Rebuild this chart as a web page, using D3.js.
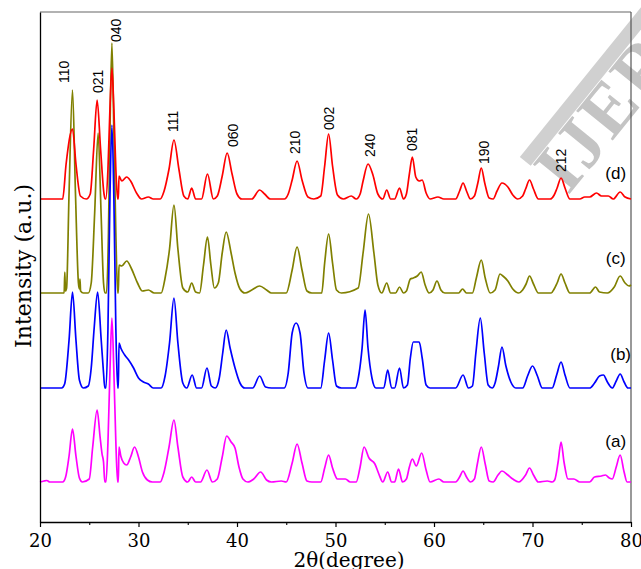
<!DOCTYPE html>
<html><head><meta charset="utf-8">
<script src="https://cdn.jsdelivr.net/npm/d3@7"></script>
<style>html,body{margin:0;padding:0;background:#fff;}svg{display:block;}</style>
</head><body>
<svg id="chart" width="641" height="569"></svg>
<script>
// ---- data (2θ in degrees, intensity in arbitrary units above each pattern's baseline) ----
const seriesNames = ["(a)", "(b)", "(c)", "(d)"];
const seriesColors = ["#ff00ff", "#0000ff", "#808000", "#ff0000"];
const seriesOffsets = [40, 134, 229, 323];
const labelLevels = [75, 162, 258, 343];
const labelAngles = [79.5, 80.0, 79.45, 79.5];

const patternA = [[20,0],[20.4,1],[20.7,1.5],[21.0,0],[22.3,0],[22.6,5],[22.95,26],[23.3,53],[23.65,26],[24.0,4],[24.3,0],[25.0,3],[25.35,35],[25.8,72],[26.1,45],[26.3,28],[26.45,20],[26.58,0],[26.7,0],[26.9,40],[27.1,110],[27.3,164],[27.5,110],[27.7,40],[27.88,0],[27.95,0],[28.02,35],[28.2,26],[28.5,19],[28.8,17],[29.2,25],[29.6,35],[30.0,25],[30.4,10],[30.9,2],[31.4,0],[32.2,0],[32.6,10],[33.1,35],[33.6,62],[34.0,35],[34.5,5],[35.0,0],[35.4,5],[35.8,0],[36.3,0],[36.95,12],[37.5,0],[38.0,3],[38.5,25],[38.95,46],[39.4,40],[39.8,34],[40.2,15],[40.6,3],[41.1,0],[41.7,3],[42.4,10],[43.0,2],[43.5,0],[44.5,1],[45.0,0],[45.6,19],[46.1,38],[46.6,19],[47.1,1],[47.6,0],[48.5,0],[48.9,14],[49.3,27],[49.7,14],[50.2,3],[51.0,3],[51.5,0],[52.1,0],[52.5,15],[52.9,35],[53.4,24],[54.0,18],[54.4,8],[54.8,0],[55.3,10],[55.7,0],[56.0,0],[56.4,13],[56.8,0],[57.2,3],[57.5,15],[57.8,23],[58.2,16],[58.75,29],[59.2,12],[59.6,0],[60.5,3],[61.0,0],[62.2,0],[62.6,5],[62.95,11],[63.3,5],[63.7,0],[64.1,3],[64.4,18],[64.8,35],[65.2,18],[65.6,1],[66.0,0],[66.5,7],[66.9,11],[67.5,7],[68.0,3],[68.6,0],[69.3,7],[69.7,14],[70.1,7],[70.6,0],[71.5,1],[72.0,0],[72.25,2],[72.6,20],[72.9,40],[73.2,20],[73.6,3],[74.2,3],[74.8,0],[75.8,0],[76.3,5],[77.0,6],[77.4,7],[77.8,4],[78.1,3],[78.5,15],[78.9,27],[79.3,10],[79.6,0],[80,0]];

const patternB = [[20,0],[22.2,0],[22.5,4],[22.95,48],[23.3,96],[23.65,48],[24.0,8],[24.4,0],[24.9,2],[25.2,20],[25.5,60],[25.85,96],[26.2,50],[26.45,15],[26.58,0],[26.7,0],[26.9,60],[27.1,190],[27.3,263],[27.5,190],[27.7,60],[27.88,0],[27.95,0],[28.02,45],[28.2,40],[28.6,33],[29.0,28],[29.5,20],[30.0,10],[30.5,6],[31.0,4],[31.5,0],[32.3,0],[32.7,12],[33.15,45],[33.6,90],[34.0,45],[34.5,5],[34.9,0],[35.45,13],[35.9,0],[36.4,0],[36.95,20],[37.4,2],[37.8,0],[38.2,10],[38.55,35],[38.9,58],[39.3,40],[39.8,20],[40.3,5],[40.8,0],[41.6,0],[42.3,12],[42.9,1],[43.5,0],[44.8,0],[45.2,15],[45.6,55],[46.0,65],[46.4,55],[46.8,15],[47.2,0],[48.5,0],[48.9,28],[49.3,55],[49.7,28],[50.1,2],[50.6,0],[52.0,0],[52.4,15],[52.7,40],[53.0,78],[53.3,40],[53.7,10],[54.1,0],[54.9,0],[55.3,18],[55.7,0],[56.0,0],[56.5,20],[56.9,0],[57.3,3],[57.6,30],[57.9,46],[58.5,46],[58.8,30],[59.2,3],[59.6,0],[62.2,0],[62.95,13],[63.5,0],[63.9,2],[64.25,35],[64.7,70],[65.1,35],[65.5,3],[65.9,0],[66.2,5],[66.55,22],[66.9,41],[67.3,22],[67.8,6],[68.3,0],[69.0,0],[69.5,12],[70.0,22],[70.5,12],[71.0,0],[72.0,0],[72.45,13],[72.9,26],[73.3,13],[73.8,0],[75.8,0],[76.3,5],[76.8,12],[77.2,13],[77.6,6],[78.1,0],[78.5,7],[78.9,14],[79.3,6],[79.7,0],[80,0]];

const patternC = [[20,0],[22.45,0],[22.52,21],[22.58,2],[22.7,5],[22.95,100],[23.3,203],[23.6,100],[23.9,10],[24.0,4],[24.06,14],[24.12,2],[24.4,0],[24.9,0],[25.2,10],[25.55,80],[25.9,160],[26.2,80],[26.45,10],[26.6,0],[26.75,0],[26.95,60],[27.1,160],[27.3,250],[27.5,160],[27.7,60],[27.88,0],[27.95,0],[28.02,28],[28.3,27],[28.8,32],[29.3,24],[29.9,10],[30.4,2],[31.0,3],[31.6,0],[32.3,0],[32.7,15],[33.15,44],[33.6,88],[34.0,44],[34.5,5],[35.0,1],[35.4,10],[35.8,1],[36.2,0],[36.6,28],[37.0,56],[37.35,28],[37.7,5],[38.1,10],[38.5,40],[38.9,61],[39.4,40],[39.8,20],[40.3,4],[40.8,0],[41.5,3],[42.3,7],[43.0,3],[43.5,0],[45.0,0],[45.6,23],[46.1,46],[46.6,23],[47.1,2],[47.6,0],[48.6,0],[48.9,30],[49.3,59],[49.7,30],[50.1,3],[50.6,0],[52.3,5],[52.8,40],[53.35,79],[53.9,40],[54.3,8],[54.7,0],[55.2,10],[55.6,0],[56.1,0],[56.5,6],[56.9,0],[57.2,2],[57.6,14],[57.9,15],[58.3,17],[58.7,21],[59.1,8],[59.5,0],[59.9,3],[60.3,12],[60.7,3],[61.1,0],[62.5,0],[62.9,4],[63.3,0],[63.9,0],[64.3,15],[64.8,33],[65.2,15],[65.7,0],[66.2,3],[66.7,19],[67.0,17],[67.5,12],[68.0,4],[68.6,0],[69.0,3],[69.35,9],[69.7,17],[70.1,9],[70.6,0],[71.9,0],[72.2,4],[72.5,10],[72.9,19],[73.3,10],[73.8,0],[75.8,0],[76.4,6],[76.8,1],[77.6,0],[78.3,6],[78.9,17],[79.4,10],[79.8,7],[80,8]];

const patternD = [[20,0],[22.3,0],[22.65,35],[23.3,70],[23.65,35],[24.1,3],[24.7,0],[25.1,5],[25.45,50],[25.8,99],[26.15,50],[26.5,5],[26.62,0],[26.68,0],[26.9,30],[27.1,90],[27.3,131],[27.5,90],[27.7,30],[27.88,0],[27.95,0],[28.02,23],[28.3,18],[28.8,22],[29.2,18],[29.8,6],[30.3,0],[31.0,2],[31.5,0],[32.2,0],[32.6,8],[33.1,30],[33.6,59],[34.1,30],[34.6,3],[35.0,0],[35.4,11],[35.8,0],[36.4,0],[37.0,25],[37.6,0],[38.0,3],[38.5,23],[39.0,46],[39.5,25],[40.0,5],[40.5,0],[41.5,0],[42.3,9],[42.8,5],[43.4,0],[44.8,0],[45.2,5],[45.6,19],[46.1,38],[46.6,19],[47.2,2],[47.8,0],[48.5,3],[48.9,33],[49.3,65],[49.7,33],[50.2,4],[50.8,0],[51.6,3],[52.1,0],[52.5,5],[52.8,18],[53.3,35],[53.8,24],[54.3,5],[54.8,0],[55.2,9],[55.6,0],[56.0,0],[56.5,11],[56.9,0],[57.2,5],[57.5,25],[57.8,42],[58.15,22],[58.5,18],[58.8,19],[59.2,6],[59.6,0],[60.4,2],[61.0,0],[62.2,0],[62.6,8],[62.95,16],[63.3,8],[63.7,0],[64.1,3],[64.45,16],[64.8,31],[65.15,16],[65.6,1],[66.0,0],[66.4,8],[66.9,16],[67.5,12],[68.0,4],[68.5,0],[69.0,3],[69.3,10],[69.7,19],[70.1,10],[70.6,0],[71.8,0],[72.2,4],[72.5,11],[72.9,21],[73.3,11],[73.8,0],[74.8,0],[75.3,2],[75.8,2],[76.5,6],[77.0,3],[77.7,3],[78.2,0],[78.9,7],[79.4,2],[80,0]];

const patterns = [patternA, patternB, patternC, patternD];

// Miller-index annotations
const hklTexts  = ["110","021","040","111","060","210","002","240","081","190","212"];
const hklAngles = [22.49,25.94,27.77,33.55,39.6,45.94,49.3,53.5,57.77,65.08,72.9];
const hklLevels = [439,429,480,390,375,368,392,365,371,358,350];

const xTicks = [20,30,40,50,60,70,80];
const xMinorTicks = [25,35,45,55,65,75];

// ---- drawing ----
const svg = d3.select("#chart");
const M = {left: 40, right: 631, top: 12, bottom: 522};
const x = d3.scaleLinear().domain([20, 80]).range([M.left, M.right]);
const y = d3.scaleLinear().domain([0, 510]).range([M.bottom, M.top]);

// watermark (diagonal, light grey)
const wm = svg.append("g").attr("transform", "translate(568,196) rotate(-51)");
wm.append("rect").attr("x", 0).attr("y", -62).attr("width", 230).attr("height", 14)
  .attr("fill", "#d0d0d0");
wm.append("text")
  .attr("font-family", "Liberation Serif")
  .attr("font-weight", "bold")
  .attr("font-size", 72)
  .attr("letter-spacing", 3)
  .attr("fill", "#c4c4c4")
  .text("IJERT");

// frame
svg.append("line").attr("x1", M.left).attr("x2", M.right).attr("y1", M.top).attr("y2", M.top)
  .attr("stroke", "#666").attr("stroke-width", 1.2);
svg.append("line").attr("x1", M.right).attr("x2", M.right).attr("y1", M.top).attr("y2", M.bottom)
  .attr("stroke", "#555").attr("stroke-width", 1.2);

const line = d3.line()
  .x(d => x(d[0]))
  .y(d => d[1])
  .curve(d3.curveMonotoneX);

const drawOrder = [2, 3, 1, 0];
drawOrder.forEach(i => {
  const pts = patterns[i].map(p => [p[0], y(p[1] + seriesOffsets[i])]);
  svg.append("path")
    .attr("d", line(pts))
    .attr("fill", "none")
    .attr("stroke", seriesColors[i])
    .attr("stroke-width", 1.7)
    .attr("stroke-linejoin", "round");
});

// series labels
seriesNames.forEach((n, i) => {
  svg.append("text")
    .attr("x", x(labelAngles[i]))
    .attr("y", y(labelLevels[i]))
    .attr("text-anchor", "end")
    .attr("font-family", "Liberation Sans, Arial, sans-serif")
    .attr("font-size", 17)
    .attr("fill", "#000")
    .text(n);
});

// hkl labels
hklTexts.forEach((t, i) => {
  svg.append("text")
    .attr("transform", `translate(${x(hklAngles[i])},${y(hklLevels[i])}) rotate(-90)`)
    .attr("dy", "0.35em")
    .attr("font-family", "Liberation Sans, Arial, sans-serif")
    .attr("font-size", 14)
    .attr("fill", "#000")
    .text(t);
});

// axes
const xAxis = svg.append("g").attr("transform", `translate(0,${M.bottom})`)
  .call(d3.axisBottom(x).tickValues(xTicks).tickFormat(d3.format("d")).tickSize(5).tickPadding(7).tickSizeOuter(0));
xAxis.select(".domain").attr("stroke", "#000").attr("stroke-width", 1.3);
xAxis.selectAll(".tick line").attr("stroke", "#000").attr("stroke-width", 1.2);
xAxis.selectAll(".tick text").attr("font-family", "DejaVu Serif, serif").attr("font-size", 18).attr("fill", "#000");
svg.append("g").attr("transform", `translate(0,${M.bottom})`)
  .call(d3.axisBottom(x).tickValues(xMinorTicks).tickFormat("").tickSize(3).tickSizeOuter(0))
  .call(g => g.select(".domain").remove())
  .selectAll(".tick line").attr("stroke", "#000").attr("stroke-width", 1.1);

const yAxis = svg.append("g").attr("transform", `translate(${M.left},0)`)
  .call(d3.axisLeft(y).tickValues([]).tickSizeOuter(0));
yAxis.select(".domain").attr("stroke", "#000").attr("stroke-width", 1.3);

// titles
svg.append("text")
  .attr("x", 349).attr("y", 567)
  .attr("text-anchor", "middle")
  .attr("font-family", "DejaVu Serif, serif")
  .attr("font-size", 20)
  .attr("fill", "#000")
  .text("2θ(degree)");
svg.append("text")
  .attr("transform", "translate(31,266) rotate(-90)")
  .attr("text-anchor", "middle")
  .attr("font-family", "DejaVu Serif, serif")
  .attr("font-size", 22)
  .attr("fill", "#000")
  .text("Intensity (a.u.)");
</script>
</body></html>
